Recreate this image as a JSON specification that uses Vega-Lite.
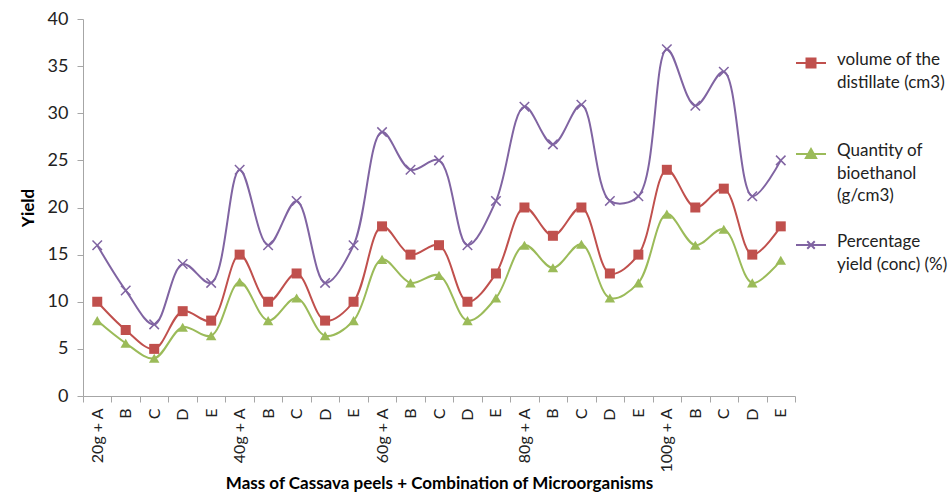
{
  "$schema": "https://vega.github.io/schema/vega-lite/v6.json",
  "width": 712,
  "height": 377,
  "autosize": "none",
  "padding": {"left": 83, "top": 19, "right": 157, "bottom": 102},
  "background": "white",
  "config": {
    "view": {"stroke": null},
    "font": "Lato",
    "axis": {"labelFont": "Lato", "titleFont": "Lato", "labelColor": "#222", "titleColor": "#000", "domainColor": "#a6a6a6", "tickColor": "#a6a6a6", "grid": false}
  },
  "data": {
    "values": [
      {"cat": "20g + A", "series": "volume of the distillate (cm3)", "value": 10},
      {"cat": "20g B", "series": "volume of the distillate (cm3)", "value": 7},
      {"cat": "20g C", "series": "volume of the distillate (cm3)", "value": 5},
      {"cat": "20g D", "series": "volume of the distillate (cm3)", "value": 9},
      {"cat": "20g E", "series": "volume of the distillate (cm3)", "value": 8},
      {"cat": "40g + A", "series": "volume of the distillate (cm3)", "value": 15},
      {"cat": "40g B", "series": "volume of the distillate (cm3)", "value": 10},
      {"cat": "40g C", "series": "volume of the distillate (cm3)", "value": 13},
      {"cat": "40g D", "series": "volume of the distillate (cm3)", "value": 8},
      {"cat": "40g E", "series": "volume of the distillate (cm3)", "value": 10},
      {"cat": "60g + A", "series": "volume of the distillate (cm3)", "value": 18},
      {"cat": "60g B", "series": "volume of the distillate (cm3)", "value": 15},
      {"cat": "60g C", "series": "volume of the distillate (cm3)", "value": 16},
      {"cat": "60g D", "series": "volume of the distillate (cm3)", "value": 10},
      {"cat": "60g E", "series": "volume of the distillate (cm3)", "value": 13},
      {"cat": "80g + A", "series": "volume of the distillate (cm3)", "value": 20},
      {"cat": "80g B", "series": "volume of the distillate (cm3)", "value": 17},
      {"cat": "80g C", "series": "volume of the distillate (cm3)", "value": 20},
      {"cat": "80g D", "series": "volume of the distillate (cm3)", "value": 13},
      {"cat": "80g E", "series": "volume of the distillate (cm3)", "value": 15},
      {"cat": "100g + A", "series": "volume of the distillate (cm3)", "value": 24},
      {"cat": "100g B", "series": "volume of the distillate (cm3)", "value": 20},
      {"cat": "100g C", "series": "volume of the distillate (cm3)", "value": 22},
      {"cat": "100g D", "series": "volume of the distillate (cm3)", "value": 15},
      {"cat": "100g E", "series": "volume of the distillate (cm3)", "value": 18},
      {"cat": "20g + A", "series": "Quantity of bioethanol (g/cm3)", "value": 8},
      {"cat": "20g B", "series": "Quantity of bioethanol (g/cm3)", "value": 5.6},
      {"cat": "20g C", "series": "Quantity of bioethanol (g/cm3)", "value": 4},
      {"cat": "20g D", "series": "Quantity of bioethanol (g/cm3)", "value": 7.3},
      {"cat": "20g E", "series": "Quantity of bioethanol (g/cm3)", "value": 6.4},
      {"cat": "40g + A", "series": "Quantity of bioethanol (g/cm3)", "value": 12.1},
      {"cat": "40g B", "series": "Quantity of bioethanol (g/cm3)", "value": 8},
      {"cat": "40g C", "series": "Quantity of bioethanol (g/cm3)", "value": 10.4},
      {"cat": "40g D", "series": "Quantity of bioethanol (g/cm3)", "value": 6.4},
      {"cat": "40g E", "series": "Quantity of bioethanol (g/cm3)", "value": 8},
      {"cat": "60g + A", "series": "Quantity of bioethanol (g/cm3)", "value": 14.5},
      {"cat": "60g B", "series": "Quantity of bioethanol (g/cm3)", "value": 12},
      {"cat": "60g C", "series": "Quantity of bioethanol (g/cm3)", "value": 12.8},
      {"cat": "60g D", "series": "Quantity of bioethanol (g/cm3)", "value": 8},
      {"cat": "60g E", "series": "Quantity of bioethanol (g/cm3)", "value": 10.4},
      {"cat": "80g + A", "series": "Quantity of bioethanol (g/cm3)", "value": 16},
      {"cat": "80g B", "series": "Quantity of bioethanol (g/cm3)", "value": 13.6},
      {"cat": "80g C", "series": "Quantity of bioethanol (g/cm3)", "value": 16.1},
      {"cat": "80g D", "series": "Quantity of bioethanol (g/cm3)", "value": 10.4},
      {"cat": "80g E", "series": "Quantity of bioethanol (g/cm3)", "value": 12},
      {"cat": "100g + A", "series": "Quantity of bioethanol (g/cm3)", "value": 19.3},
      {"cat": "100g B", "series": "Quantity of bioethanol (g/cm3)", "value": 16},
      {"cat": "100g C", "series": "Quantity of bioethanol (g/cm3)", "value": 17.7},
      {"cat": "100g D", "series": "Quantity of bioethanol (g/cm3)", "value": 12},
      {"cat": "100g E", "series": "Quantity of bioethanol (g/cm3)", "value": 14.4},
      {"cat": "20g + A", "series": "Percentage yield (conc) (%)", "value": 16},
      {"cat": "20g B", "series": "Percentage yield (conc) (%)", "value": 11.2},
      {"cat": "20g C", "series": "Percentage yield (conc) (%)", "value": 7.6},
      {"cat": "20g D", "series": "Percentage yield (conc) (%)", "value": 14},
      {"cat": "20g E", "series": "Percentage yield (conc) (%)", "value": 12},
      {"cat": "40g + A", "series": "Percentage yield (conc) (%)", "value": 24},
      {"cat": "40g B", "series": "Percentage yield (conc) (%)", "value": 16},
      {"cat": "40g C", "series": "Percentage yield (conc) (%)", "value": 20.7},
      {"cat": "40g D", "series": "Percentage yield (conc) (%)", "value": 12},
      {"cat": "40g E", "series": "Percentage yield (conc) (%)", "value": 16},
      {"cat": "60g + A", "series": "Percentage yield (conc) (%)", "value": 28},
      {"cat": "60g B", "series": "Percentage yield (conc) (%)", "value": 24},
      {"cat": "60g C", "series": "Percentage yield (conc) (%)", "value": 25},
      {"cat": "60g D", "series": "Percentage yield (conc) (%)", "value": 16},
      {"cat": "60g E", "series": "Percentage yield (conc) (%)", "value": 20.7},
      {"cat": "80g + A", "series": "Percentage yield (conc) (%)", "value": 30.7},
      {"cat": "80g B", "series": "Percentage yield (conc) (%)", "value": 26.7},
      {"cat": "80g C", "series": "Percentage yield (conc) (%)", "value": 30.9},
      {"cat": "80g D", "series": "Percentage yield (conc) (%)", "value": 20.7},
      {"cat": "80g E", "series": "Percentage yield (conc) (%)", "value": 21.2},
      {"cat": "100g + A", "series": "Percentage yield (conc) (%)", "value": 36.8},
      {"cat": "100g B", "series": "Percentage yield (conc) (%)", "value": 30.8},
      {"cat": "100g C", "series": "Percentage yield (conc) (%)", "value": 34.4},
      {"cat": "100g D", "series": "Percentage yield (conc) (%)", "value": 21.2},
      {"cat": "100g E", "series": "Percentage yield (conc) (%)", "value": 25}
    ]
  },
  "encoding": {
    "x": {
      "field": "cat", "type": "ordinal", "sort": null,
      "scale": {"type": "band", "paddingInner": 0, "paddingOuter": 0},
      "axis": {
        "title": "Mass of Cassava peels + Combination of Microorganisms",
        "titleFontSize": 17, "titleFontWeight": "bold", "titlePadding": 3,
        "labelAngle": -90, "labelAlign": "right", "labelBaseline": "middle",
        "labelFontSize": 16, "labelPadding": 6,
        "tickBand": "extent", "tickSize": 6,
        "labelExpr": "indexof(datum.label + '', '+') >= 0 ? datum.label : slice(datum.label + '', -1)"
      }
    },
    "y": {
      "field": "value", "type": "quantitative",
      "scale": {"domain": [0, 40], "nice": false},
      "axis": {
        "title": "Yield", "titleFontSize": 17, "titleFontWeight": "bold", "titlePadding": 10,
        "values": [0, 5, 10, 15, 20, 25, 30, 35, 40],
        "labelFontSize": 18, "tickSize": 6, "labelPadding": 9
      }
    },
    "color": {
      "field": "series", "type": "nominal",
      "scale": {
        "domain": ["volume of the distillate (cm3)", "Quantity of bioethanol (g/cm3)", "Percentage yield (conc) (%)"],
        "range": ["#C0504D", "#9BBB59", "#8064A2"]
      },
      "legend": {
        "title": null,
        "orient": "none", "legendX": 712, "legendY": 28,
        "direction": "vertical", "gridAlign": "all",
        "symbolSize": 900, "symbolOpacity": 1, "symbolStrokeWidth": 2,
        "labelFont": "Lato", "labelFontSize": 17, "labelColor": "#222",
        "labelLimit": 300, "labelOffset": 10, "labelBaseline": "top",
        "rowPadding": 25,
        "labelExpr": "datum.value == 'volume of the distillate (cm3)' ? 'volume of the|distillate (cm3)' : datum.value == 'Quantity of bioethanol (g/cm3)' ? 'Quantity of|bioethanol|(g/cm3)' : 'Percentage|yield (conc) (%)'",
        "encode": {
          "symbols": {"update": {"stroke": {"scale": "color", "field": "value"}, "strokeWidth": {"value": 2}, "fill": {"scale": "color", "field": "value"}, "opacity": {"value": 1}}},
          "labels": {"update": {"lineBreak": {"value": "|"}, "lineHeight": {"value": 22.5}, "dy": {"value": -11}}}
        }
      }
    }
  },
  "layer": [
    {
      "mark": {"type": "line", "interpolate": "catmull-rom", "strokeWidth": 2}
    },
    {
      "transform": [{"filter": "datum.series == 'volume of the distillate (cm3)'"}],
      "mark": {"type": "point", "shape": "square", "filled": true, "size": 100, "opacity": 1}
    },
    {
      "transform": [{"filter": "datum.series == 'Quantity of bioethanol (g/cm3)'"}],
      "mark": {"type": "point", "shape": "triangle-up", "filled": true, "size": 110, "opacity": 1}
    },
    {
      "transform": [{"filter": "datum.series == 'Percentage yield (conc) (%)'"}],
      "mark": {"type": "point", "shape": "M-1,-1L1,1M-1,1L1,-1", "filled": false, "size": 90, "strokeWidth": 1.5, "opacity": 1}
    },
    {
      "mark": {"type": "point", "filled": true, "opacity": 0, "size": 1},
      "encoding": {
        "shape": {
          "field": "series", "type": "nominal",
          "scale": {
            "domain": ["volume of the distillate (cm3)", "Quantity of bioethanol (g/cm3)", "Percentage yield (conc) (%)"],
            "range": ["M-1,0H1M-0.3,-0.3H0.3V0.3H-0.3Z", "M-1,0H1M0,-0.33L0.34,0.27H-0.34Z", "M-1,0H1M-0.25,-0.25L0.25,0.25M-0.25,0.25L0.25,-0.25"]
          },
          "legend": {
            "title": null,
            "orient": "none", "legendX": 712, "legendY": 28,
            "direction": "vertical", "gridAlign": "all",
            "symbolSize": 900, "symbolOpacity": 1, "symbolStrokeWidth": 2,
            "labelFont": "Lato", "labelFontSize": 17, "labelColor": "#222",
            "labelLimit": 300, "labelOffset": 10, "labelBaseline": "top",
            "rowPadding": 25,
            "labelExpr": "datum.value == 'volume of the distillate (cm3)' ? 'volume of the|distillate (cm3)' : datum.value == 'Quantity of bioethanol (g/cm3)' ? 'Quantity of|bioethanol|(g/cm3)' : 'Percentage|yield (conc) (%)'",
            "encode": {
              "symbols": {"update": {"stroke": {"scale": "color", "field": "value"}, "strokeWidth": {"value": 2}, "fill": {"scale": "color", "field": "value"}, "opacity": {"value": 1}}},
              "labels": {"update": {"lineBreak": {"value": "|"}, "lineHeight": {"value": 22.5}, "dy": {"value": -11}}}
            }
          }
        }
      }
    }
  ]
}
